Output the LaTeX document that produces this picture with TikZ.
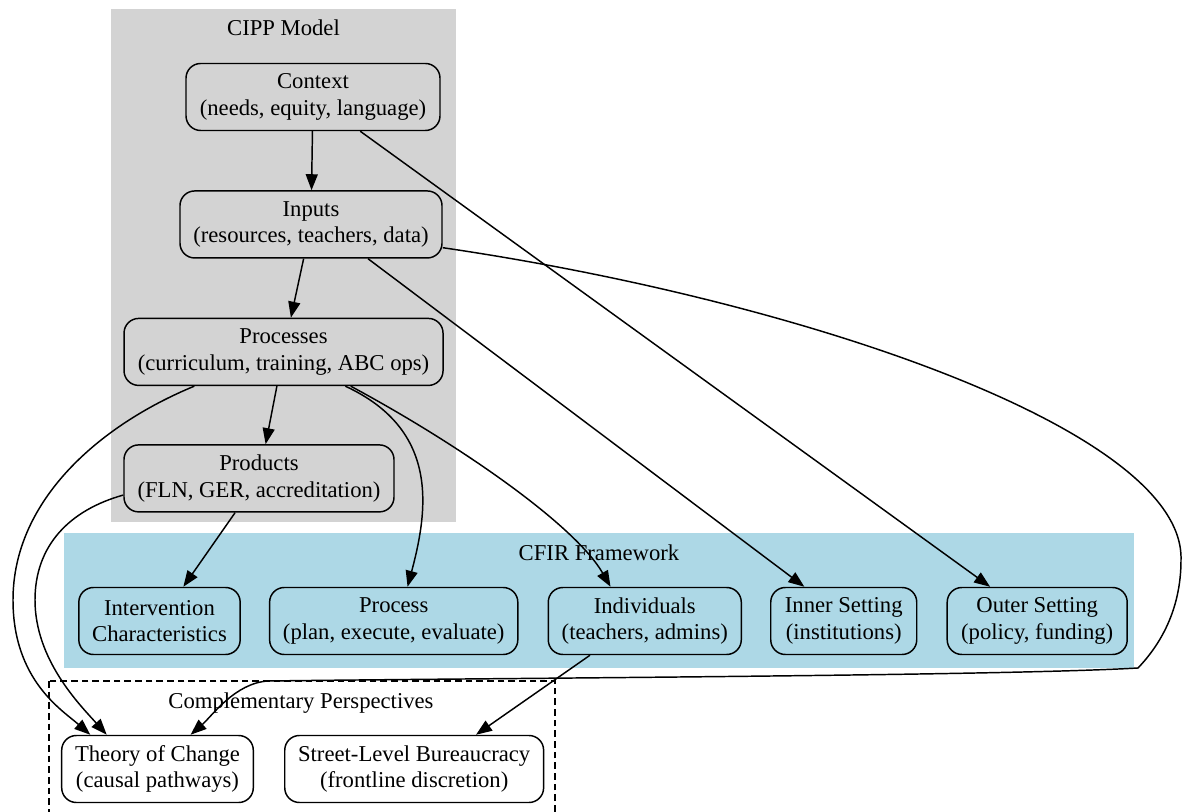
\documentclass[tikz,border=0pt]{standalone}
\usepackage{fontspec}
\setmainfont{Liberation Serif}
\newfontfamily\dotfont{Liberation Serif}
\usetikzlibrary{positioning,arrows.meta}

\definecolor{cippgray}{RGB}{211,211,211}
\definecolor{cfirblue}{RGB}{173,216,230}

\tikzset{
  box/.style={draw, rounded corners=11pt, align=center,
    minimum height=50.25pt, inner xsep=10pt},
  lbl/.style={anchor=base},
}

\begin{document}
\begin{tikzpicture}[x=0.75pt, y=-0.75pt, line width=1.1pt,
    >={Triangle[length=12pt,width=9pt]},
    font=\dotfont\fontsize{17}{20}\selectfont]
  \useasboundingbox (0,0) rectangle (1182,812);

  \fill[cippgray] (111,9) rectangle (456,522);
  \fill[cfirblue] (64,533) rectangle (1134,668);
  \draw[dash pattern=on 5pt off 3pt] (49,681) rectangle (555,840);

  \node[lbl] (cipp) at (283.5,36) {CIPP Model};
  \node[lbl] (cfir) at (599,561) {CFIR Framework};
  \node[lbl] (comp) at (301,708) {Complementary Perspectives};

  \node[box, minimum width=190.5pt] (ctx) at (313,97) {Context\\(needs, equity, language)};
  \node[box, minimum width=196.5pt, below=44.25pt of ctx, xshift=-1.5pt] (inp) {Inputs\\(resources, teachers, data)};
  \node[box, minimum width=239.25pt, below=44.25pt of inp, xshift=-20.6pt] (proc) {Processes\\(curriculum, training, ABC ops)};
  \node[box, minimum width=202.5pt, below=43.5pt of proc, xshift=-18.4pt] (prod) {Products\\(FLN, GER, accreditation)};

  \node[box, minimum width=120.75pt] (interv) at (159.5,621) {Intervention\\Characteristics};
  \node[box, minimum width=186pt, right=21pt of interv] (cproc) {Process\\(plan, execute, evaluate)};
  \node[box, minimum width=144.75pt, right=21.75pt of cproc] (indiv) {Individuals\\(teachers, admins)};
  \node[box, minimum width=109.5pt, right=21pt of indiv] (inner) {Inner Setting\\(institutions)};
  \node[box, minimum width=135pt, right=21.75pt of inner] (outer) {Outer Setting\\(policy, funding)};

  \node[box, minimum width=143.25pt] (toc) at (157.5,769) {Theory of Change\\(causal pathways)};
  \node[box, minimum width=183pt, right=22.5pt of toc] (slb) {Street-Level Bureaucracy\\(frontline discretion)};

  \draw[->] (ctx) -- (inp);
  \draw[->] (ctx) -- (outer);
  \draw[->] (inp) -- (proc);
  \draw[->] (inp.-31) -- (inner.139);
  \draw[->] (inp.-10) .. controls (800,300) and (1185,430) .. (1181,560)
    .. controls (1181,610) and (1160,645) .. (1138,668)
    .. controls (1000,676) and (500,678) .. (268,681)
    .. controls (235,683) and (212,716) .. (toc.46);
  \draw[->] (proc) -- (prod);
  \draw[->] (proc.-29) .. controls (440,430) and (428,510) .. (cproc.68);
  \draw[->] (proc.-27) .. controls (460,445) and (575,525) .. (indiv.135);
  \draw[->] (proc.201) .. controls (100,425) and (13,500) .. (13,600)
    .. controls (13,680) and (62,710) .. (toc.153);
  \draw[->] (prod) -- (interv);
  \draw[->] (prod.187) .. controls (70,510) and (35,545) .. (35,600)
    .. controls (35,660) and (80,705) .. (toc.146);
  \draw[->] (indiv.-148) -- (slb.29);
\end{tikzpicture}
\end{document}
